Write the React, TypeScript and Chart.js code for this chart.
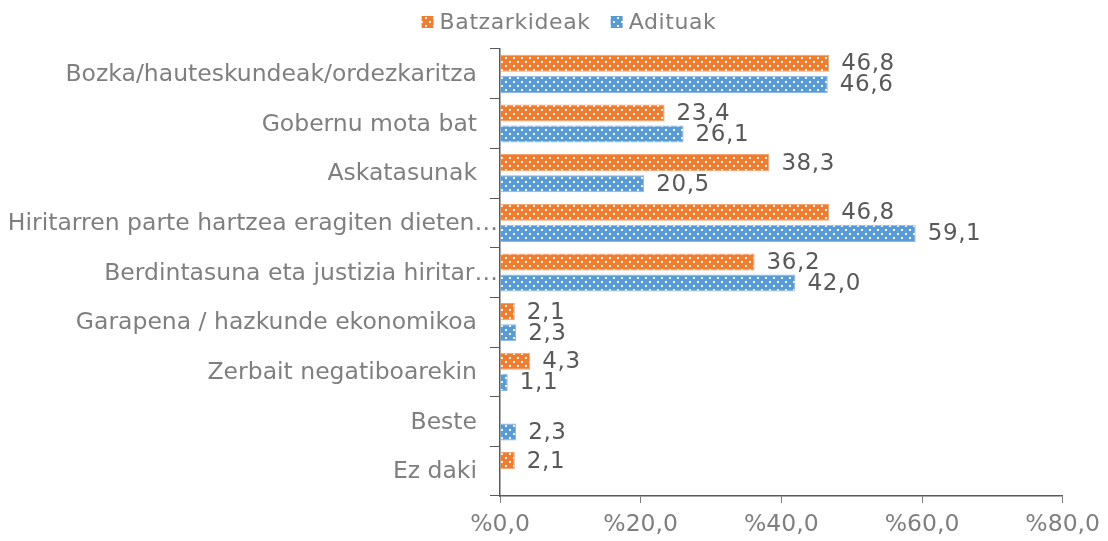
import React, { useEffect, useRef } from "react";
import { Chart, registerables } from "chart.js";

Chart.register(...registerables);

const categories = [
  "Bozka/hauteskundeak/ordezkaritza",
  "Gobernu mota bat",
  "Askatasunak",
  "Hiritarren parte hartzea eragiten dieten…",
  "Berdintasuna eta justizia hiritar…",
  "Garapena / hazkunde ekonomikoa",
  "Zerbait negatiboarekin",
  "Beste",
  "Ez daki",
];
const batzarkideak: (number | null)[] = [46.8, 23.4, 38.3, 46.8, 36.2, 2.1, 4.3, null, 2.1];
const adituak: (number | null)[] = [46.6, 26.1, 20.5, 59.1, 42.0, 2.3, 1.1, 2.3, null];
const seriesNames = ["Batzarkideak", "Adituak"];
const seriesColors = ["#ED7D31", "#5B9BD5"];
const seriesBorders = ["#F3A06B", "#8DB8E2"];
const xTicks = [0, 20, 40, 60, 80];

const FONT = "'DejaVu Sans', Verdana, sans-serif";

function makePattern(color: string): CanvasPattern | string {
  const c = document.createElement("canvas");
  c.width = 8;
  c.height = 8;
  const g = c.getContext("2d");
  if (!g) return color;
  g.fillStyle = color;
  g.fillRect(0, 0, 8, 8);
  g.fillStyle = "rgba(255,255,255,0.9)";
  g.fillRect(1, 1, 2, 2);
  g.fillRect(5, 5, 2, 2);
  const ctx = document.createElement("canvas").getContext("2d");
  const p = ctx ? ctx.createPattern(c, "repeat") : null;
  return p || color;
}

const fmt = (v: number) => v.toFixed(1).replace(".", ",");

export default function App() {
  const ref = useRef<HTMLCanvasElement>(null);
  useEffect(() => {
    if (!ref.current) return;
    const patterns = seriesColors.map(makePattern);

    const labelPlugin = {
      id: "valueLabels",
      afterDatasetsDraw(chart: any) {
        const ctx = chart.ctx;
        ctx.save();
        ctx.font = `23px ${FONT}`;
        (ctx as any).letterSpacing = "0.6px";
        ctx.fillStyle = "#595959";
        ctx.textAlign = "left";
        ctx.textBaseline = "middle";
        chart.data.datasets.forEach((ds: any, di: number) => {
          const meta = chart.getDatasetMeta(di);
          meta.data.forEach((el: any, i: number) => {
            const v = ds.data[i];
            if (v === null || v === undefined) return;
            ctx.fillText(fmt(v), el.x + 12, el.y + 1);
          });
        });
        ctx.restore();
      },
    };

    const yLabelPlugin = {
      id: "yLabels",
      afterDraw(chart: any) {
        const ctx = chart.ctx;
        const yScale = chart.scales.y;
        ctx.save();
        ctx.font = `23.5px ${FONT}`;
        ctx.fillStyle = "#7F7F7F";
        ctx.textBaseline = "middle";
        ctx.textAlign = "right";
        categories.forEach((c, i) => {
          const y = yScale.getPixelForValue(i);
          const right = c.endsWith("…") ? 498 : 477;
          ctx.fillText(c, right, y + 1);
        });
        ctx.restore();
      },
    };

    const legendPlugin = {
      id: "customLegend",
      afterDraw(chart: any) {
        const ctx = chart.ctx;
        ctx.save();
        ctx.font = `22px ${FONT}`;
        (ctx as any).letterSpacing = "0.6px";
        ctx.textBaseline = "middle";
        ctx.textAlign = "left";
        const box = 12;
        const gapBoxText = 6;
        const gapItems = 20;
        const widths = seriesNames.map((n) => box + gapBoxText + ctx.measureText(n).width);
        const total = widths.reduce((a, b) => a + b, 0) + gapItems;
        let x = 569 - total / 2;
        const y = 22;
        seriesNames.forEach((n, i) => {
          ctx.fillStyle = patterns[i];
          ctx.fillRect(x, y - box / 2, box, box);
          ctx.fillStyle = "#7F7F7F";
          ctx.fillText(n, x + box + gapBoxText, y + 1);
          x += widths[i] + gapItems;
        });
        ctx.restore();
      },
    };

    const chart = new Chart(ref.current, {
      type: "bar",
      data: {
        labels: categories,
        datasets: [
          {
            label: seriesNames[0],
            data: batzarkideak,
            backgroundColor: patterns[0] as any,
            borderColor: seriesBorders[0],
            borderWidth: 1,
            categoryPercentage: 0.85,
            barPercentage: 0.81,
          },
          {
            label: seriesNames[1],
            data: adituak,
            backgroundColor: patterns[1] as any,
            borderColor: seriesBorders[1],
            borderWidth: 1,
            categoryPercentage: 0.85,
            barPercentage: 0.81,
          },
        ],
      },
      options: {
        indexAxis: "y",
        responsive: false,
        animation: false,
        devicePixelRatio: 1,
        layout: { padding: { top: 49, right: 44, bottom: 0, left: 0 } },
        plugins: {
          legend: { display: false },
          tooltip: { enabled: false },
        },
        scales: {
          x: {
            min: 0,
            max: 80,
            afterFit: (s: any) => {
              s.height = 45;
            },
            afterBuildTicks: (s: any) => {
              s.ticks = xTicks.map((v) => ({ value: v }));
            },
            ticks: {
              font: { family: FONT, size: 23.5 },
              color: "#7F7F7F",
              padding: 8,
              callback: (v: any) => "%" + fmt(Number(v)),
            },
            grid: {
              drawOnChartArea: false,
              tickLength: 7,
              color: "#7F7F7F",
            },
            border: { color: "#595959", width: 1.5 },
          },
          y: {
            afterFit: (s: any) => {
              s.width = 500;
            },
            ticks: {
              display: false,
              autoSkip: false,
            },
            grid: {
              drawOnChartArea: false,
              tickLength: 10,
              color: "#595959",
              offset: true,
            },
            border: { color: "#595959", width: 1.5 },
          },
        },
      },
      plugins: [labelPlugin, yLabelPlugin, legendPlugin],
    } as any);
    return () => chart.destroy();
  }, []);

  return (
    <div style={{ position: "fixed", left: 0, top: 0, width: 1108, height: 541, background: "#fff" }}>
      <canvas ref={ref} width={1108} height={541} style={{ width: 1108, height: 541 }} />
    </div>
  );
}
